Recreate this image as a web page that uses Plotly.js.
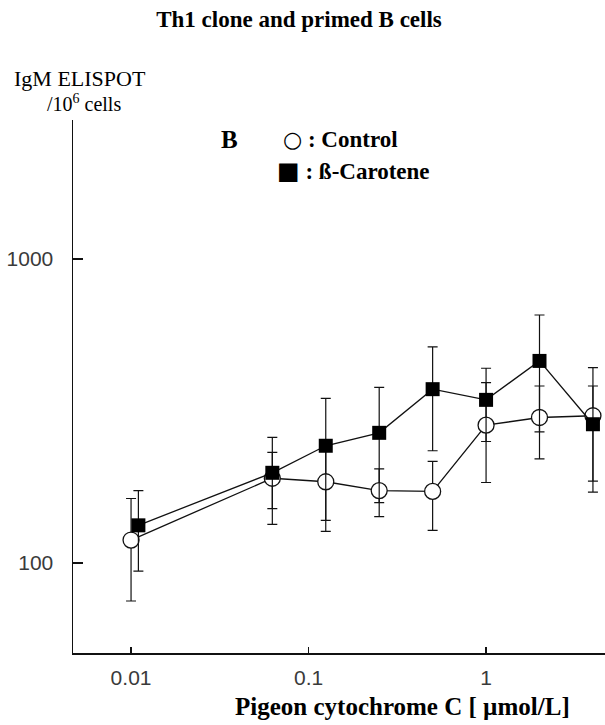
<!DOCTYPE html>
<html>
<head>
<meta charset="utf-8">
<script src="https://cdn.plot.ly/plotly-3.0.1.min.js"></script>
<style>
  html, body { margin: 0; padding: 0; background: #fff; }
  #chart { width: 605px; height: 725px; }
</style>
</head>
<body>
<div id="chart"></div>
<script>
// ---- Data ----
const concControl  = [0.01, 0.0625, 0.125, 0.25, 0.5, 1, 2, 4];
const concCarotene = [0.011, 0.0625, 0.125, 0.25, 0.5, 1, 2, 4];

const controlValues   = [119, 190, 185, 173, 172, 284, 301, 305];
const controlErrPlus  = [44, 41, 58, 31, 44, 108, 81, 134];
const controlErrMinus = [44, 39, 58, 31, 44, 100, 81, 134];

const caroteneValues   = [133, 198, 243, 268, 373, 344, 462, 286];
const caroteneErrPlus  = [40, 61, 105, 110, 141, 93, 192, 96];
const caroteneErrMinus = [39, 64, 105, 110, 139, 93, 192, 100];

const xTickVals = [0.01, 0.1, 1];
const xTickText = ["0.01", "0.1", "1"];
const yTickVals = [100, 1000];
const yTickText = ["100", "1000"];

const seriesNames = ["Control", "ß-Carotene"];

// ---- Layout helpers (pixel -> paper coordinates) ----
const W = 605, H = 725;
const M = { l: 73, r: 0, t: 120, b: 72 };
const PW = W - M.l - M.r, PH = H - M.t - M.b;
const px = x => (x - M.l) / PW;
const py = y => (H - M.b - y) / PH;

const serif = "Liberation Serif, Times New Roman, serif";
const sans = "Liberation Sans, Arial, sans-serif";

const errStyle = { type: "data", symmetric: false, color: "#111", thickness: 1.2, width: 5 };

const traces = [
  {
    name: seriesNames[0],
    x: concControl, y: controlValues,
    mode: "lines+markers",
    line: { color: "#111", width: 1.3 },
    marker: { symbol: "circle", size: 16, color: "#fff", line: { color: "#111", width: 1.3 } },
    error_y: Object.assign({ array: controlErrPlus, arrayminus: controlErrMinus }, errStyle),
    showlegend: false
  },
  {
    name: seriesNames[1],
    x: concCarotene, y: caroteneValues,
    mode: "lines+markers",
    line: { color: "#111", width: 1.3 },
    marker: { symbol: "square", size: 14, color: "#000", line: { color: "#000", width: 0 } },
    error_y: Object.assign({ array: caroteneErrPlus, arrayminus: caroteneErrMinus }, errStyle),
    showlegend: false
  }
];

const glyph = (ch, size) => '<span style="font-family:DejaVu Sans;font-size:' + size + 'px">' + ch + '</span>';

const layout = {
  width: W, height: H,
  margin: M,
  paper_bgcolor: "#fff",
  plot_bgcolor: "#fff",
  title: {
    text: "<b>Th1 clone and primed B cells</b>",
    x: 299 / W, xanchor: "center",
    y: 1 - 19 / H, yanchor: "middle",
    font: { family: serif, size: 23, color: "#000" }
  },
  xaxis: {
    type: "log",
    range: [-2.327, 0.670],
    tickvals: xTickVals, ticktext: xTickText,
    ticks: "inside", ticklen: 6, tickwidth: 1.3, tickcolor: "#111",
    tickfont: { family: sans, size: 21, color: "#3a3a3a" },
    ticklabelstandoff: 5,
    showline: true, linecolor: "#111", linewidth: 1.5,
    showgrid: false, zeroline: false, fixedrange: true
  },
  yaxis: {
    type: "log",
    range: [1.704, 3.457],
    tickvals: yTickVals, ticktext: yTickText,
    ticks: "inside", ticklen: 10, tickwidth: 1.3, tickcolor: "#111",
    tickfont: { family: sans, size: 21, color: "#3a3a3a" },
    ticklabelstandoff: 14,
    showline: true, linecolor: "#111", linewidth: 1.5,
    showgrid: false, zeroline: false, fixedrange: true
  },
  annotations: [
    { text: "IgM ELISPOT", xref: "paper", yref: "paper", x: px(12), y: py(78),
      xanchor: "left", yanchor: "middle", showarrow: false,
      font: { family: serif, size: 22, color: "#000" } },
    { text: "/10<sup>6</sup> cells", xref: "paper", yref: "paper", x: px(45), y: py(103),
      xanchor: "left", yanchor: "middle", showarrow: false,
      font: { family: serif, size: 20, color: "#000" } },
    { text: "<b>B</b>", xref: "paper", yref: "paper", x: px(219), y: py(140),
      xanchor: "left", yanchor: "middle", showarrow: false,
      font: { family: serif, size: 25, color: "#000" } },
    { text: "<b>" + glyph("○", 22) + " : " + seriesNames[0] + "</b>", xref: "paper", yref: "paper", x: px(281), y: py(140),
      xanchor: "left", yanchor: "middle", showarrow: false,
      font: { family: serif, size: 23, color: "#000" } },
    { text: "<b>" + glyph("■", 24) + " : " + seriesNames[1] + "</b>", xref: "paper", yref: "paper", x: px(275), y: py(171),
      xanchor: "left", yanchor: "middle", showarrow: false,
      font: { family: serif, size: 23, color: "#000" } },
    { text: "<b>Pigeon cytochrome C [ µmol/L]</b>", xref: "paper", yref: "paper", x: px(402), y: py(706),
      xanchor: "center", yanchor: "middle", showarrow: false,
      font: { family: serif, size: 25, color: "#000" } }
  ]
};

Plotly.newPlot("chart", traces, layout, { displayModeBar: false, staticPlot: true });
</script>
</body>
</html>
